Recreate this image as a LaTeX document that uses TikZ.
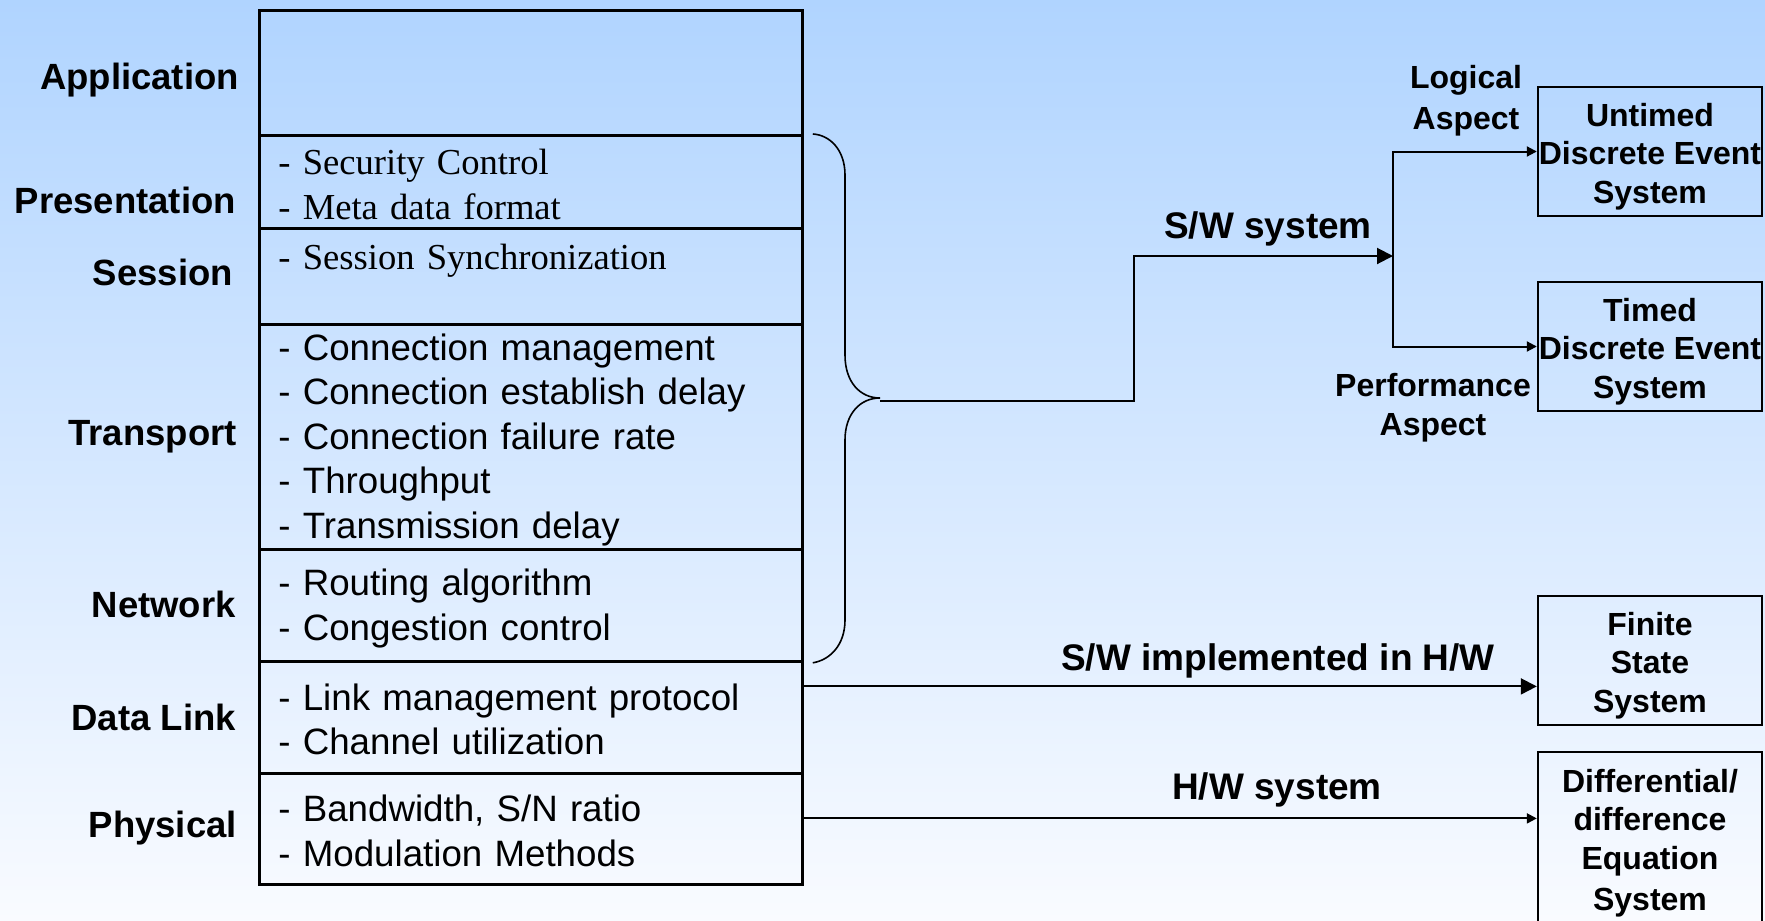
\documentclass[tikz,border=0pt]{standalone}
\usepackage{fontspec}
\setmainfont{Liberation Sans}
\newfontfamily\timesfont{Liberation Serif}
\usetikzlibrary{arrows.meta}
\definecolor{bgtop}{RGB}{176,212,255}
\definecolor{bgbot}{RGB}{249,251,255}
% line struts: sans stack text, serif stack text, model boxes
\newcommand\rs{\rule[-2.2pt]{0pt}{35pt}}
\newcommand\rt{\rule[-2.6pt]{0pt}{35pt}}
\newcommand\rb{\rule[-2.1pt]{0pt}{35.5pt}}
\begin{document}
\begin{tikzpicture}[x=1pt,y=-1pt,
  osibox/.style={draw, line width=2.8pt, minimum width=543pt, text width=505pt,
    inner xsep=19pt, inner ysep=0pt, align=left, anchor=north west,
    font=\fontsize{36.7}{44.5}\selectfont},
  serifbox/.style={osibox, font=\timesfont\fontsize{36.6}{44.5}\selectfont},
  sysbox/.style={draw, line width=2.4pt, minimum width=224pt, inner sep=0pt,
    align=center, font=\bfseries\fontsize{32}{38.5}\selectfont},
  lbl/.style={font=\bfseries\fontsize{36.5}{44}\selectfont, inner sep=0pt, anchor=base east},
  conlbl/.style={font=\bfseries\fontsize{37}{44}\selectfont, inner sep=0pt, anchor=base},
  asp/.style={font=\bfseries\fontsize{32}{37}\selectfont, inner sep=0pt, align=center},
  conn/.style={line width=2pt},
  bigarrow/.style={-{Triangle[length=16pt,width=16pt]}},
  smallarrow/.style={-{Triangle[length=10pt,width=10pt]}},
  brc/.style={line width=1.6pt}
]
% background
\fill[top color=bgtop, bottom color=bgbot] (0,0) rectangle (1765,921);
\useasboundingbox (0,0) rectangle (1765,921);

% protocol stack
\node[osibox, minimum height=125pt] (app) at (258,9) {};
\node[serifbox, minimum height=93pt] (pres) at (258,134)
  {\rt- Security Control\\\rt- Meta data format};
\node[serifbox, minimum height=96pt] (sess) at (258,227)
  {\rt- Session Synchronization\\\rt};
\node[osibox, minimum height=225pt] (trans) at (258,323)
  {\rs- Connection management\\\rs- Connection establish delay\\\rs- Connection failure rate\\\rs- Throughput\\\rs- Transmission delay};
\node[osibox, minimum height=112pt] (net) at (258,548)
  {\rs- Routing algorithm\\\rs- Congestion control};
\node[osibox, minimum height=112pt] (dlink) at (258,660)
  {\rs- Link management protocol\\\rs- Channel utilization};
\node[osibox, minimum height=111pt] (phys) at (258,772)
  {\rs- Bandwidth, S/N ratio\\\rs- Modulation Methods};

% layer names
\node[lbl] (lapp) at (239,89) {Application};
\node[lbl] (lpres) at (236,213) {Presentation};
\node[lbl] (lsess) at (233,285) {Session};
\node[lbl] (ltrans) at (237,445) {Transport};
\node[lbl] (lnet) at (236,617) {Network};
\node[lbl] (ldlink) at (236,730) {Data Link};
\node[lbl] (lphys) at (237,837) {Physical};

% system models
\node[sysbox, minimum height=129pt] (untimed) at (1650,151.5)
  {\rb Untimed\\\rb Discrete Event\\\rb System};
\node[sysbox, minimum height=129pt] (timed) at (1650,346.5)
  {\rb Timed\\\rb Discrete Event\\\rb System};
\node[sysbox, minimum height=129pt] (finite) at (1650,660.5)
  {\rb Finite\\\rb State\\\rb System};
\node[sysbox, minimum height=172pt] (diffeq) at (1650,838)
  {\rb Differential/\\\rb difference\\\rb Equation\\\rb System};

% brace grouping presentation .. network
\draw[brc] ([xshift=9pt]pres.north east)
  .. controls (830,135) and (845,150) .. (845,175) -- (845,355)
  .. controls (845,382) and (860,398) .. (880,398)
  .. controls (860,398) and (845,414) .. (845,440) -- (845,620)
  .. controls (845,645) and (830,660) .. ([xshift=9pt]net.south east);
\coordinate (btip) at (880,401);
\coordinate (fork) at (1393,256);

% software branch
\draw[conn, bigarrow] (btip) -- ++(254,0) |- (fork);
\draw[conn, smallarrow] (fork) |- (untimed.west);
\draw[conn, smallarrow] (fork) |- (timed.west);

% hardware connectors
\coordinate (swhw) at ([yshift=31pt]dlink.east);
\coordinate (hws) at ([yshift=10.5pt]phys.east);
\draw[conn, bigarrow] (swhw) -- (swhw -| finite.west);
\draw[conn, smallarrow] (hws) -- (hws -| diffeq.west);

% connector labels
\node[conlbl] (lsw) at (1268,238) {S/W system};
\node[conlbl] (lswhw) at (1278,670) {S/W implemented in H/W};
\node[conlbl] (lhw) at (1277,799) {H/W system};
\node[asp] (llog) at (1466,96) {\rb Logical\\\rb Aspect};
\node[asp, font=\bfseries\fontsize{32}{39}\selectfont] (lperf) at (1433,403)
  {\rb Performance\\\rb Aspect};
\end{tikzpicture}
\end{document}
